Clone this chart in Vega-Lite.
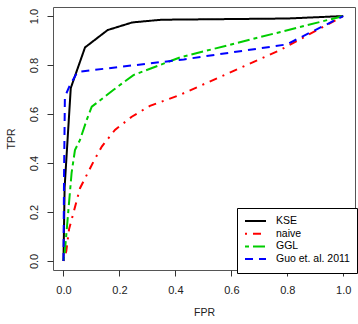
{
  "$schema": "https://vega.github.io/schema/vega-lite/v6.json",
  "width": 302,
  "height": 263,
  "autosize": {"type": "none"},
  "padding": {"left": 53, "top": 7, "right": 3, "bottom": 54},
  "background": "white",
  "config": {
    "view": {"stroke": "#555", "strokeWidth": 1},
    "font": "Liberation Sans",
    "axis": {"grid": false, "domain": false, "tickColor": "#333", "tickSize": 6, "labelFontSize": 11, "titleFontSize": 10.5, "titleFontWeight": "normal", "labelColor": "#222", "titleColor": "#222"}
  },
  "data": {
    "values": [
      {"method": "KSE", "fpr": 0, "tpr": 0},
      {"method": "KSE", "fpr": 0.004, "tpr": 0.3},
      {"method": "KSE", "fpr": 0.026, "tpr": 0.706},
      {"method": "KSE", "fpr": 0.077, "tpr": 0.872},
      {"method": "KSE", "fpr": 0.158, "tpr": 0.943},
      {"method": "KSE", "fpr": 0.246, "tpr": 0.974},
      {"method": "KSE", "fpr": 0.35, "tpr": 0.985},
      {"method": "KSE", "fpr": 0.8, "tpr": 0.99},
      {"method": "KSE", "fpr": 1, "tpr": 1},
      {"method": "naive", "fpr": 0, "tpr": 0},
      {"method": "naive", "fpr": 0.01, "tpr": 0.04},
      {"method": "naive", "fpr": 0.02, "tpr": 0.13},
      {"method": "naive", "fpr": 0.059, "tpr": 0.297},
      {"method": "naive", "fpr": 0.107, "tpr": 0.405},
      {"method": "naive", "fpr": 0.137, "tpr": 0.467},
      {"method": "naive", "fpr": 0.184, "tpr": 0.535},
      {"method": "naive", "fpr": 0.244, "tpr": 0.589},
      {"method": "naive", "fpr": 0.309, "tpr": 0.633},
      {"method": "naive", "fpr": 0.416, "tpr": 0.678},
      {"method": "naive", "fpr": 0.774, "tpr": 0.861},
      {"method": "naive", "fpr": 1, "tpr": 1},
      {"method": "GGL", "fpr": 0, "tpr": 0},
      {"method": "GGL", "fpr": 0.005, "tpr": 0.04},
      {"method": "GGL", "fpr": 0.029, "tpr": 0.36},
      {"method": "GGL", "fpr": 0.041, "tpr": 0.453},
      {"method": "GGL", "fpr": 0.059, "tpr": 0.494},
      {"method": "GGL", "fpr": 0.083, "tpr": 0.576},
      {"method": "GGL", "fpr": 0.101, "tpr": 0.63},
      {"method": "GGL", "fpr": 0.124, "tpr": 0.65},
      {"method": "GGL", "fpr": 0.178, "tpr": 0.698},
      {"method": "GGL", "fpr": 0.25, "tpr": 0.759},
      {"method": "GGL", "fpr": 0.416, "tpr": 0.831},
      {"method": "GGL", "fpr": 1, "tpr": 1},
      {"method": "Guo et. al. 2011", "fpr": 0, "tpr": 0},
      {"method": "Guo et. al. 2011", "fpr": 0.002, "tpr": 0.35},
      {"method": "Guo et. al. 2011", "fpr": 0.005, "tpr": 0.67},
      {"method": "Guo et. al. 2011", "fpr": 0.023, "tpr": 0.718},
      {"method": "Guo et. al. 2011", "fpr": 0.05, "tpr": 0.772},
      {"method": "Guo et. al. 2011", "fpr": 0.43, "tpr": 0.823},
      {"method": "Guo et. al. 2011", "fpr": 0.797, "tpr": 0.884},
      {"method": "Guo et. al. 2011", "fpr": 1, "tpr": 1}
    ]
  },
  "mark": {"type": "line", "strokeWidth": 2, "clip": true},
  "encoding": {
    "x": {"field": "fpr", "type": "quantitative", "scale": {"domain": [-0.0375, 1.042], "nice": false, "zero": false},
      "axis": {"values": [0, 0.2, 0.4, 0.6, 0.8, 1], "format": ".1f", "title": "FPR", "labelPadding": 8, "titlePadding": 12}},
    "y": {"field": "tpr", "type": "quantitative", "scale": {"domain": [-0.037, 1.037], "nice": false, "zero": false},
      "axis": {"values": [0, 0.2, 0.4, 0.6, 0.8, 1], "format": ".1f", "title": "TPR", "labelAngle": 270, "labelAlign": "center", "labelBaseline": "bottom", "labelPadding": 8, "titlePadding": 12}},
    "color": {"field": "method", "type": "nominal", "sort": null,
      "scale": {"domain": ["KSE", "naive", "GGL", "Guo et. al. 2011"], "range": ["#000000", "#FF0000", "#00CD00", "#0000FF"]},
      "legend": {"title": null, "orient": "none", "legendX": 184, "legendY": 201, "strokeColor": "#000", "fillColor": "white", "padding": 7, "symbolType": "stroke", "symbolSize": 441, "symbolStrokeWidth": 2, "labelFontSize": 10.5, "labelOffset": 9, "clipHeight": 12, "rowPadding": 0.7, "labelColor": "#000", "cornerRadius": 0}},
    "strokeDash": {"field": "method", "type": "nominal", "sort": null,
      "scale": {"domain": ["KSE", "naive", "GGL", "Guo et. al. 2011"], "range": [[1, 0], [2, 6, 8, 6], [4, 4, 12, 4], [8, 6]]}}
  }
}
